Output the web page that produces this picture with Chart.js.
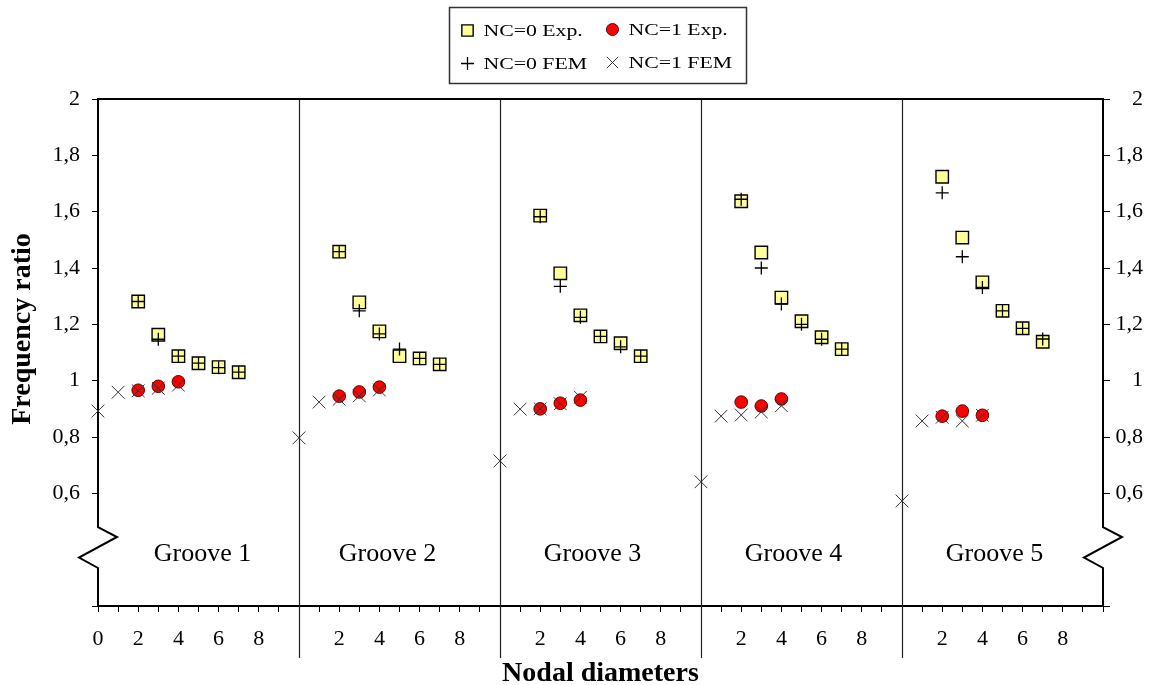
<!DOCTYPE html>
<html>
<head>
<meta charset="utf-8">
<script src="https://cdn.jsdelivr.net/npm/chart.js@4/dist/chart.umd.min.js"></script>
<style>
  html, body { margin: 0; padding: 0; background: #fff; }
  canvas { display: block; }
</style>
</head>
<body>
<canvas id="chart" width="1149" height="685"></canvas>
<script>
// nodal diameters 0..7, one row per groove (null = no point)
const grooves = ['Groove 1', 'Groove 2', 'Groove 3', 'Groove 4', 'Groove 5'];
const nodalTickLabels = [0, 2, 4, 6, 8];
const yTickLabels = ['0,6', '0,8', '1', '1,2', '1,4', '1,6', '1,8', '2'];

const nc0Exp = [
  [null, null, 1.281, 1.163, 1.087, 1.062, 1.048, 1.030],
  [null, null, 1.458, 1.278, 1.175, 1.087, 1.079, 1.058],
  [null, null, 1.586, 1.381, 1.232, 1.157, 1.133, 1.087],
  [null, null, 1.637, 1.455, 1.295, 1.211, 1.154, 1.112],
  [null, null, 1.724, 1.508, 1.349, 1.248, 1.186, 1.138]
];
const nc0Fem = [
  [null, null, 1.281, 1.147, 1.087, 1.062, 1.046, 1.030],
  [null, null, 1.458, 1.248, 1.166, 1.112, 1.079, 1.058],
  [null, null, 1.582, 1.335, 1.225, 1.157, 1.120, 1.087],
  [null, null, 1.644, 1.400, 1.272, 1.200, 1.147, 1.112],
  [null, null, 1.667, 1.440, 1.331, 1.248, 1.186, 1.148]
];
const nc1Exp = [
  [null, null, 0.966, 0.980, 0.996],
  [null, null, 0.945, 0.960, 0.977],
  [null, null, 0.900, 0.920, 0.931],
  [null, null, 0.924, 0.910, 0.935],
  [null, null, 0.874, 0.892, 0.877]
];
const nc1Fem = [
  [0.892, 0.959, 0.964, 0.973, 0.984],
  [0.797, 0.924, 0.934, 0.946, 0.967],
  [0.715, 0.899, 0.900, 0.918, 0.941],
  [0.641, 0.874, 0.878, 0.889, 0.911],
  [0.573, 0.857, 0.870, 0.857, 0.877]
];

function toPoints(rows) {
  const pts = [];
  rows.forEach((row, g) => {
    row.forEach((v, n) => {
      if (v !== null) pts.push({ x: g * 10 + n, y: v });
    });
  });
  return pts;
}

const serif = '"Liberation Serif", "Times New Roman", serif';

const framePlugin = {
  id: 'frame',
  beforeDatasetsDraw(chart) {
    const { ctx, chartArea: a, scales: { x, y } } = chart;
    ctx.save();
    // groove separators
    ctx.strokeStyle = '#222';
    ctx.lineWidth = 1.2;
    for (let g = 1; g < grooves.length; g++) {
      const px = Math.round(x.getPixelForValue(g * 10)) + 0.5;
      ctx.beginPath();
      ctx.moveTo(px, a.top);
      ctx.lineTo(px, a.bottom + 52);
      ctx.stroke();
    }
    // top border and broken y axes
    ctx.strokeStyle = '#000';
    ctx.lineWidth = 2;
    ctx.beginPath();
    ctx.moveTo(a.left - 1, a.top);
    ctx.lineTo(a.right + 1, a.top);
    ctx.stroke();
    const b1 = y.getPixelForValue(0.48), z1 = y.getPixelForValue(0.445);
    const z2 = y.getPixelForValue(0.372), b2 = y.getPixelForValue(0.335);
    [a.left, a.right].forEach(ax => {
      ctx.beginPath();
      ctx.moveTo(ax, a.top);
      ctx.lineTo(ax, b1);
      ctx.lineTo(ax + 19, z1);
      ctx.lineTo(ax - 19, z2);
      ctx.lineTo(ax, b2);
      ctx.lineTo(ax, a.bottom + 1);
      ctx.stroke();
    });
    // groove labels
    const labelX = [5.2, 14.4, 24.6, 34.6, 44.6];
    ctx.fillStyle = '#000';
    ctx.font = '26px ' + serif;
    ctx.textAlign = 'center';
    ctx.textBaseline = 'alphabetic';
    grooves.forEach((name, g) => {
      ctx.fillText(name, x.getPixelForValue(labelX[g]), y.getPixelForValue(0.36));
    });
    // y title
    ctx.font = 'bold 28px ' + serif;
    ctx.textBaseline = 'middle';
    ctx.translate(23, 329);
    ctx.rotate(-Math.PI / 2);
    ctx.fillText('Frequency ratio', 0, 0);
    ctx.restore();
  },
  afterDraw(chart) {
    const { ctx, chartArea: a } = chart;
    const w = 297, h = 76;
    const left = Math.round((a.left + a.right) / 2 - 3 - w / 2) + 0.5;
    const top = 7.5;
    ctx.save();
    ctx.fillStyle = '#fff';
    ctx.fillRect(left, top, w, h);
    ctx.strokeStyle = '#333';
    ctx.lineWidth = 1.5;
    ctx.strokeRect(left, top, w, h);
    const slots = [[18, 23], [163, 22], [18, 56], [163, 55]];
    const order = [3, 2, 1, 0];
    chart.data.datasets.forEach((ds, i) => {
      const [dx, cy] = slots[order[i]];
      const mx = left + dx, my = top + cy;
      ctx.fillStyle = ds.backgroundColor;
      ctx.strokeStyle = ds.borderColor;
      ctx.lineWidth = ds.borderWidth;
      Chart.helpers.drawPoint(ctx, {
        pointStyle: ds.pointStyle, radius: ds.legendRadius, rotation: 0, borderWidth: ds.borderWidth
      }, mx, my);
      ctx.fillStyle = '#000';
      ctx.font = '17px ' + serif;
      ctx.textAlign = 'left';
      ctx.textBaseline = 'alphabetic';
      ctx.save();
      ctx.translate(mx + 16, my + 5);
      ctx.scale(1.28, 1);
      ctx.fillText(ds.label, 0, 0);
      ctx.restore();
    });
    ctx.restore();
  }
};

const yTick = v => {
  const i = Math.round((v - 0.6) / 0.2);
  return i >= 0 && i < yTickLabels.length ? yTickLabels[i] : '';
};
const yTickColor = c => (Math.abs(c.tick.value - 0.4) < 1e-6 ? 'rgba(0,0,0,0)' : '#000');

new Chart(document.getElementById('chart'), {
  type: 'scatter',
  data: {
    datasets: [
      {
        label: 'NC=1 FEM', data: toPoints(nc1Fem), order: 0,
        pointStyle: 'crossRot', pointRadius: 9, legendRadius: 8,
        backgroundColor: '#333', borderColor: '#333', borderWidth: 1, clip: false
      },
      {
        label: 'NC=0 FEM', data: toPoints(nc0Fem), order: 1,
        pointStyle: 'cross', pointRadius: 6.5, legendRadius: 6.5,
        backgroundColor: '#000', borderColor: '#000', borderWidth: 1.3, clip: false
      },
      {
        label: 'NC=1 Exp.', data: toPoints(nc1Exp), order: 2,
        pointStyle: 'circle', pointRadius: 6.3, legendRadius: 6,
        backgroundColor: '#ff0000', borderColor: '#5a0000', borderWidth: 1, clip: false
      },
      {
        label: 'NC=0 Exp.', data: toPoints(nc0Exp), order: 3,
        pointStyle: 'rect', pointRadius: 8.8, legendRadius: 8,
        backgroundColor: '#ffff99', borderColor: '#000', borderWidth: 1.4, clip: false
      }
    ]
  },
  options: {
    responsive: false,
    animation: false,
    devicePixelRatio: 1,
    layout: { padding: { top: 99, left: 0, right: 6, bottom: 0 } },
    plugins: { legend: { display: false }, tooltip: { enabled: false } },
    scales: {
      x: {
        type: 'linear', min: 0, max: 50,
        afterFit: s => { s.height = 79; },
        border: { display: true, color: '#000', width: 2 },
        grid: { drawOnChartArea: false, drawTicks: true, tickLength: 6, color: '#000' },
        ticks: {
          stepSize: 1, autoSkip: false, maxRotation: 0, padding: 14,
          color: '#000', font: { family: serif, size: 22 },
          callback: v => {
            const n = v % 10;
            return nodalTickLabels.includes(n) && (n !== 0 || v === 0) ? String(n) : '';
          }
        },
        title: {
          display: true, text: 'Nodal diameters', color: '#000',
          font: { family: serif, size: 28, weight: 'bold', lineHeight: 0.8 },
          padding: { top: 0, bottom: 0 }
        }
      },
      y: {
        position: 'left', min: 0.2, max: 2,
        afterFit: s => { s.width = 98; },
        border: { display: false },
        grid: { drawOnChartArea: false, drawTicks: true, tickLength: 6, color: '#000', tickColor: yTickColor },
        ticks: {
          stepSize: 0.2, padding: 12, color: '#000',
          font: { family: serif, size: 22 }, callback: yTick
        }
      },
      y2: {
        position: 'right', min: 0.2, max: 2,
        afterFit: s => { s.width = 40; },
        border: { display: false },
        grid: { drawOnChartArea: false, drawTicks: true, tickLength: 7, color: '#000', tickColor: yTickColor },
        ticks: {
          stepSize: 0.2, padding: 5, crossAlign: 'far', color: '#000',
          font: { family: serif, size: 22 }, callback: yTick
        }
      }
    }
  },
  plugins: [framePlugin]
});
</script>
</body>
</html>
